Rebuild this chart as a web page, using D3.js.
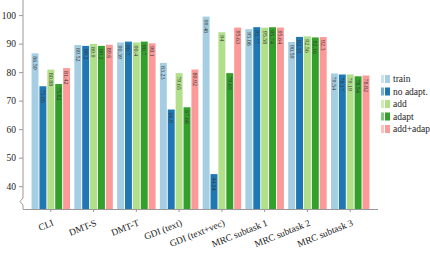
<!DOCTYPE html>
<html>
<head>
<meta charset="utf-8">
<script src="https://cdn.jsdelivr.net/npm/d3@7"></script>
<style>
  body { margin: 0; background: #fff; }
  svg { display: block; }
  text { font-family: "Liberation Serif", "DejaVu Serif", serif; }
</style>
</head>
<body>
<svg id="chart"></svg>
<script>
var width = 430,
    height = 253;

var categories = ["CLI", "DMT-S", "DMT-T", "GDI (text)", "GDI (text+vec)",
    "MRC subtask 1", "MRC subtask 2", "MRC subtask 3"];
var series = ["train", "no adapt.", "add", "adapt", "add+adapt"];
var colors = ["#a6cee3", "#1f78b4", "#b2df8a", "#33a02c", "#fb9a99"];

var trainVals    = [86.59, 89.52, 90.39, 83.23, 99.48, 95.08, 90.59, 79.54];
var noAdaptVals  = [75.05, 89.2, 90.7, 66.90, 44.24, 95.77, 92.35, 79.17];
var addVals      = [80.88, 89.9, 90.4, 79.65, 94, 95.58, 92.56, 79.19];
var adaptVals    = [75.82, 89.2, 90.7, 67.68, 79.65, 95.74, 92.16, 78.54];
var addAdaptVals = [81.42, 89.6, 90.1, 80.92, 95.63, 95.64, 92.3, 78.82];
var yTicks = [40, 50, 60, 70, 80, 90, 100];

var values = [trainVals, noAdaptVals, addVals, adaptVals, addAdaptVals];

var mLeft = 23, mRight = 378, mTop = 0, mBottom = 209;

var svg = d3.select("#chart")
    .attr("width", width)
    .attr("height", height);

var x0 = d3.scaleBand()
    .domain(categories)
    .range([mLeft, mRight])
    .paddingInner(0.1)
    .paddingOuter(0.2);

var x1 = d3.scaleBand()
    .domain(series)
    .range([0, x0.bandwidth()])
    .paddingInner(0.12);

var y = d3.scaleLinear()
    .domain([32, 105.3])
    .range([mBottom, mTop]);

// bars
var groups = svg.selectAll("g.group")
    .data(categories)
    .enter().append("g")
    .attr("class", "group")
    .attr("transform", function (d) { return "translate(" + x0(d) + ",0)"; });

groups.each(function (cat, ci) {
    var g = d3.select(this);
    series.forEach(function (s, si) {
        var v = values[si][ci];
        g.append("rect")
            .attr("x", x1(s))
            .attr("y", y(v))
            .attr("width", x1.bandwidth())
            .attr("height", mBottom - y(v))
            .attr("fill", colors[si]);
        g.append("text")
            .attr("transform", "translate(" + (x1(s) + x1.bandwidth() / 2) + "," + (y(v) + 3) + ") rotate(90)")
            .attr("dy", "0.35em")
            .attr("font-size", 6)
            .attr("fill", "#333")
            .text(v);
    });
});

// y axis
var yAxis = d3.axisLeft(y)
    .tickValues(yTicks)
    .tickSize(4)
    .tickPadding(3);

var ya = svg.append("g")
    .attr("transform", "translate(" + mLeft + ",0)")
    .call(yAxis);
ya.select(".domain").remove();
ya.selectAll("line").attr("stroke", "#999");
ya.selectAll("text").attr("font-size", 9.5).attr("fill", "#222");

// left spine with break marker
svg.append("path")
    .attr("d", "M" + mLeft + "," + mTop + "V198L" + (mLeft - 3) + ",201.5L" + mLeft + ",205V" + mBottom)
    .attr("fill", "none")
    .attr("stroke", "#999")
    .attr("stroke-width", 1);

// x axis
var xa = svg.append("g")
    .attr("transform", "translate(0," + mBottom + ")")
    .call(d3.axisBottom(x0).tickSize(3).tickFormat(""));
xa.select(".domain").attr("d", "M" + mLeft + ",0.5H" + mRight).attr("stroke", "#999");
xa.selectAll("line").attr("stroke", "#999");

svg.selectAll("text.xlab")
    .data(categories)
    .enter().append("text")
    .attr("class", "xlab")
    .attr("transform", function (d) {
        return "translate(" + (x0(d) + x0.bandwidth() / 2 + 1) + "," + (mBottom + 10) + ") rotate(-22)";
    })
    .attr("text-anchor", "end")
    .attr("dy", "0.7em")
    .attr("font-size", 9.5)
    .attr("fill", "#222")
    .text(function (d) { return d; });

// legend
var legend = svg.append("g")
    .attr("transform", "translate(381,75)");

series.forEach(function (s, i) {
    var row = legend.append("g").attr("transform", "translate(0," + (i * 12.5) + ")");
    row.append("rect")
        .attr("x", 0).attr("y", 0)
        .attr("width", 3).attr("height", 8)
        .attr("fill", colors[i]).attr("opacity", 0.6);
    row.append("rect")
        .attr("x", 4).attr("y", 0)
        .attr("width", 5).attr("height", 8)
        .attr("fill", colors[i]);
    row.append("text")
        .attr("x", 12).attr("y", 4)
        .attr("dy", "0.35em")
        .attr("font-size", 9.5)
        .attr("fill", "#222")
        .text(s);
});
</script>
</body>
</html>
